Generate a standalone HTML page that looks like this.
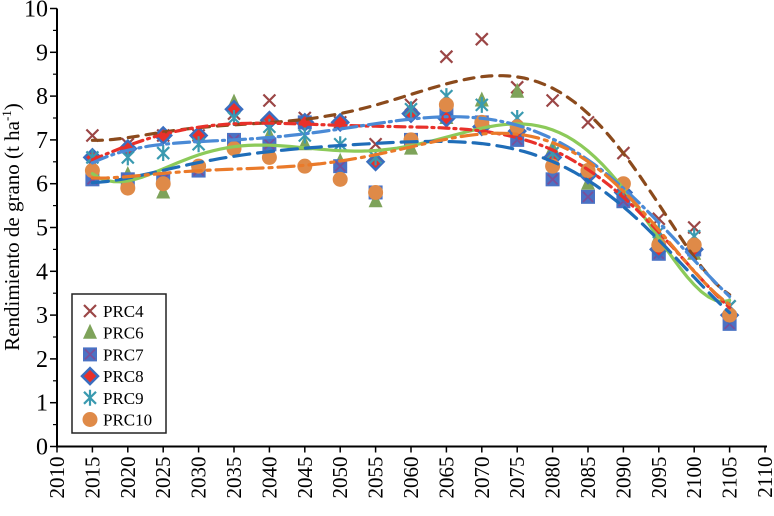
<!DOCTYPE html>
<html><head><meta charset="utf-8"><style>
html,body{margin:0;padding:0;background:#fff}
svg text{font-family:"Liberation Serif","DejaVu Serif","Times New Roman",serif}
</style></head><body>
<svg id="c" width="774" height="516" style="display:block"></svg>
<script>
const years=[2015,2020,2025,2030,2035,2040,2045,2050,2055,2060,2065,2070,2075,2080,2085,2090,2095,2100,2105];
const prc4=[7.1,6.9,7.1,7.1,7.6,7.9,7.5,7.4,6.9,7.8,8.9,9.3,8.2,7.9,7.4,6.7,5.2,5.0,3.2];
const prc6=[6.3,6.2,5.8,6.3,7.85,7.1,6.9,6.5,5.6,6.8,7.5,7.9,8.1,6.8,6.0,5.7,4.8,4.4,3.0];
const prc7=[6.1,6.1,6.1,6.3,7.0,6.9,7.4,6.4,5.8,7.0,7.6,7.4,7.0,6.1,5.7,5.6,4.4,4.5,2.8];
const prc8=[6.6,6.8,7.1,7.1,7.7,7.45,7.4,7.4,6.5,7.6,7.5,7.3,7.2,6.6,6.2,5.8,4.5,4.5,3.0];
const prc9=[6.6,6.6,6.7,6.9,7.5,7.3,7.1,6.9,6.6,7.7,8.0,7.8,7.5,6.7,6.3,5.9,4.9,4.8,3.2];
const prc10=[6.3,5.9,6.0,6.4,6.8,6.6,6.4,6.1,5.8,7.0,7.8,7.4,7.3,6.4,6.3,6.0,4.6,4.6,3.0];
const xTicks=[2010,2015,2020,2025,2030,2035,2040,2045,2050,2055,2060,2065,2070,2075,2080,2085,2090,2095,2100,2105,2110];
const yTicks=[0,1,2,3,4,5,6,7,8,9,10];

const NS="http://www.w3.org/2000/svg";
const svg=document.getElementById('c');
const X0=57,X1=765,Y0=446.5,Y1=8.5;
const sx=v=>X0+(v-2010)/100*(X1-X0);
const sy=v=>Y0-v/10*(Y0-Y1);
function mk(tag,attrs,parent){const e=document.createElementNS(NS,tag);for(const k in attrs)e.setAttribute(k,attrs[k]);(parent||svg).appendChild(e);return e;}

function fit(xs,ys,deg){
  const n=deg+1,A=[],b=[];
  const t=xs.map(x=>(x-2060)/45);
  for(let i=0;i<n;i++){A.push(new Array(n).fill(0));b.push(0);}
  for(let k=0;k<t.length;k++){for(let i=0;i<n;i++){b[i]+=ys[k]*Math.pow(t[k],i);for(let j=0;j<n;j++)A[i][j]+=Math.pow(t[k],i+j);}}
  for(let i=0;i<n;i++){let p=i;for(let r=i+1;r<n;r++)if(Math.abs(A[r][i])>Math.abs(A[p][i]))p=r;[A[i],A[p]]=[A[p],A[i]];[b[i],b[p]]=[b[p],b[i]];
    for(let r=0;r<n;r++){if(r===i)continue;const f=A[r][i]/A[i][i];for(let j=i;j<n;j++)A[r][j]-=f*A[i][j];b[r]-=f*b[i];}}
  const c=b.map((v,i)=>v/A[i][i]);
  return x=>{const tt=(x-2060)/45;let s=0;for(let i=0;i<n;i++)s+=c[i]*Math.pow(tt,i);return s;};
}

const series=[
 {name:'PRC4',data:prc4,line:'#8b4a1c',dash:'10,8',marker:'x'},
 {name:'PRC6',data:prc6,line:'#8cca5a',dash:'',marker:'tri'},
 {name:'PRC7',data:prc7,line:'#1f6db8',dash:'16,8',marker:'sq'},
 {name:'PRC8',data:prc8,line:'#e8302a',dash:'10,5,2,5',marker:'dia'},
 {name:'PRC9',data:prc9,line:'#4a8ad6',dash:'16,5,2,5',marker:'ast'},
 {name:'PRC10',data:prc10,line:'#ea7a2a',dash:'16,6,3,6',marker:'circ'}
];

function marker(type,x,y,g){
  if(type==='x'){mk('path',{d:`M${x-6},${y-6}L${x+6},${y+6}M${x-6},${y+6}L${x+6},${y-6}`,stroke:'#9b4646','stroke-width':2.2,fill:'none'},g);}
  else if(type==='tri'){mk('path',{d:`M${x},${y-9}L${x+7},${y+6}L${x-7},${y+6}Z`,fill:'#7ea35a'},g);}
  else if(type==='sq'){mk('rect',{x:x-7,y:y-7,width:14,height:14,fill:'#4a72c4'},g);mk('path',{d:`M${x-5},${y-5}L${x+5},${y+5}M${x-5},${y+5}L${x+5},${y-5}`,stroke:'#7a4f9a','stroke-width':1.8},g);}
  else if(type==='dia'){mk('path',{d:`M${x},${y-8}L${x+8},${y}L${x},${y+8}L${x-8},${y}Z`,fill:'#e8302a',stroke:'#3a6ec0','stroke-width':2.5},g);}
  else if(type==='ast'){mk('path',{d:`M${x-6},${y-6}L${x+6},${y+6}M${x-6},${y+6}L${x+6},${y-6}M${x},${y-8}L${x},${y+8}`,stroke:'#3a9ab0','stroke-width':2.2,fill:'none'},g);}
  else if(type==='circ'){mk('circle',{cx:x,cy:y,r:7.5,fill:'#df8a48'},g);}
}

series.forEach(s=>{
  const g=mk('g',{});
  
  
  s.data.forEach((v,i)=>marker(s.marker,sx(years[i]),sy(v),g));
});
series.forEach(s=>{
  const f=fit(years,s.data,6);let d='';
  for(let yr=2015;yr<=2105;yr+=1){d+=(yr===2015?'M':'L')+sx(yr).toFixed(1)+','+sy(f(yr)).toFixed(1);}
  const p=mk('path',{d:d,fill:'none',stroke:s.line,'stroke-width':3.2,'stroke-dasharray':s.dash,'stroke-linecap':'round'});
  
  
});

const ax=mk('g',{});


mk('path',{d:`M${X0},${Y1}L${X0},${Y0}L${X1+2},${Y0}`,stroke:'#000','stroke-width':2,fill:'none'},ax);
yTicks.forEach(v=>{
  mk('line',{x1:X0-7,x2:X0,y1:sy(v),y2:sy(v),stroke:'#000','stroke-width':1.5},ax);
  if(v<10)mk('line',{x1:X0-4,x2:X0,y1:sy(v+0.5),y2:sy(v+0.5),stroke:'#000','stroke-width':1.2},ax);
  const t=mk('text',{x:X0-9,y:sy(v)+8,'text-anchor':'end','font-size':24},ax);t.textContent=v;
  
  
});
xTicks.forEach(v=>{
  mk('line',{x1:sx(v),x2:sx(v),y1:Y0,y2:Y0+6,stroke:'#000','stroke-width':1.5},ax);
  const t=mk('text',{transform:`translate(${sx(v)+7},${Y0+10}) rotate(-90)`,'text-anchor':'end','font-size':21},ax);t.textContent=v;
  
  
});
const yt=mk('text',{transform:'translate(19,227) rotate(-90)','text-anchor':'middle','font-size':21});


yt.innerHTML='Rendimiento de grano (t ha<tspan dy="-8" font-size="13">-1</tspan><tspan dy="8">)</tspan>';

const lg=mk('g',{});


mk('rect',{x:72,y:294,width:94,height:139,fill:'#fff',stroke:'#222','stroke-width':1.5},lg);
series.forEach((s,i)=>{
  const y=311+i*21.7;
  const e=mk('g',{},lg);
  
  
  marker(s.marker,90,y,e);
  const t=mk('text',{x:103,y:y+6,'font-size':17},e);t.textContent=s.name;
});
</script>
</body></html>
